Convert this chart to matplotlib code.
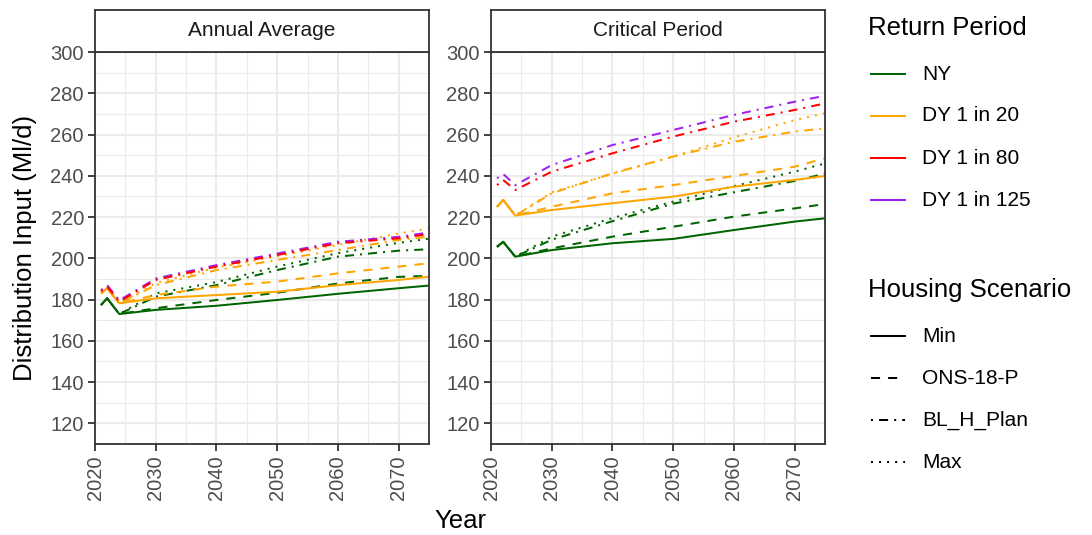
"""
Distribution Input projections by return period and housing scenario,
drawn as two ggplot-style facets (Annual Average / Critical Period).
"""

import matplotlib

matplotlib.use("Agg")
import matplotlib.pyplot as plt
from matplotlib.lines import Line2D
from matplotlib.ticker import MultipleLocator

plt.rcParams["font.family"] = ["Liberation Sans", "DejaVu Sans"]

# --------------------------------------------------------------------------- #
# Data
# --------------------------------------------------------------------------- #
YEARS = [2021, 2022, 2024, 2030, 2040, 2050, 2060, 2070, 2075]

# Annual Average facet
aa_ny_min = [177.4, 180.6, 173.0, 175.0, 177.0, 179.8, 182.8, 185.5, 186.8]
aa_ny_ons = [177.4, 180.6, 173.0, 175.8, 179.8, 183.3, 187.8, 191.0, 191.5]
aa_ny_bl = [177.4, 180.6, 173.0, 181.4, 187.0, 194.3, 200.8, 203.7, 204.4]
aa_ny_max = [177.4, 180.6, 173.0, 183.0, 188.5, 196.0, 202.5, 207.5, 209.5]
aa_d20_min = [183.0, 185.5, 178.2, 180.6, 182.2, 183.8, 187.0, 189.5, 191.1]
aa_d20_ons = [183.0, 185.5, 178.2, 182.2, 186.3, 188.7, 192.7, 196.0, 197.6]
aa_d20_bl = [183.0, 185.5, 178.2, 187.0, 194.3, 199.2, 204.0, 208.9, 210.5]
aa_d20_max = [183.0, 185.5, 178.2, 188.0, 195.5, 201.0, 206.5, 212.0, 214.5]
aa_d80_bl = [184.0, 186.3, 179.0, 189.5, 196.0, 201.6, 207.3, 209.7, 211.8]
aa_d125_bl = [184.6, 187.0, 179.6, 190.2, 196.7, 202.3, 208.0, 210.4, 212.5]

# Critical Period facet
cp_ny_min = [205.6, 208.0, 200.8, 204.0, 207.3, 209.4, 213.7, 217.8, 219.4]
cp_ny_ons = [205.6, 208.0, 200.8, 204.8, 210.5, 215.3, 220.2, 224.2, 226.3]
cp_ny_bl = [205.6, 208.0, 200.8, 209.0, 218.0, 226.5, 232.0, 237.5, 241.0]
cp_ny_max = [205.6, 208.0, 200.8, 210.5, 219.5, 227.5, 235.0, 242.0, 246.0]
cp_d20_min = [225.0, 228.3, 220.7, 223.4, 226.7, 229.9, 234.7, 238.0, 239.9]
cp_d20_ons = [225.0, 228.3, 220.7, 225.0, 231.5, 235.5, 239.9, 244.4, 248.5]
cp_d20_bl = [225.0, 228.3, 220.7, 231.5, 241.2, 249.3, 256.5, 261.4, 263.0]
cp_d20_max = [225.0, 228.3, 220.7, 232.0, 241.0, 249.3, 258.6, 267.0, 270.3]
cp_d80_bl = [235.5, 238.0, 233.1, 242.0, 250.9, 259.0, 266.2, 271.9, 275.1]
cp_d125_bl = [238.8, 240.9, 235.5, 245.2, 254.9, 262.2, 269.5, 275.9, 278.8]

RETURN_PERIODS = ["NY", "DY 1 in 20", "DY 1 in 80", "DY 1 in 125"]
SCENARIOS = ["Min", "ONS-18-P", "BL_H_Plan", "Max"]
FACETS = ["Annual Average", "Critical Period"]

# --------------------------------------------------------------------------- #
# Styles
# --------------------------------------------------------------------------- #
COLORS = {
    "NY": "#006400",
    "DY 1 in 20": "#FFA500",
    "DY 1 in 80": "#FF0000",
    "DY 1 in 125": "#A020F0",
}
DASHES = {
    "Min": None,
    "ONS-18-P": (4.5, 4),
    "BL_H_Plan": (1, 3, 4.5, 3),
    "Max": (1, 3),
}
LW = 1.45
W, H = 1092, 535


def fx(px):
    return px / W


def fy(py):
    return 1 - py / H


def draw_line(ax, values, rp, sc):
    line, = ax.plot(YEARS, values, color=COLORS[rp], lw=LW,
                    solid_capstyle="butt", dash_capstyle="butt")
    if DASHES[sc] is not None:
        line.set_dashes(DASHES[sc])


def style_panel(ax, title):
    ax.set_xlim(2020, 2075)
    ax.set_ylim(110, 300)
    ax.xaxis.set_major_locator(MultipleLocator(10))
    ax.xaxis.set_minor_locator(MultipleLocator(5))
    ax.yaxis.set_major_locator(MultipleLocator(20))
    ax.yaxis.set_minor_locator(MultipleLocator(10))
    ax.set_xticks(range(2020, 2071, 10))
    ax.set_yticks(range(120, 301, 20))
    ax.grid(which="major", color="#EBEBEB", lw=1.5, zorder=0)
    ax.grid(which="minor", color="#EBEBEB", lw=0.8, zorder=0)
    ax.set_axisbelow(True)
    for sp in ax.spines.values():
        sp.set_color("#333333")
        sp.set_linewidth(1.3)
    ax.tick_params(which="major", length=5, width=1.3, color="#333333",
                   labelsize=14.5, labelcolor="#4D4D4D", pad=3)
    ax.tick_params(which="minor", length=0)
    ax.tick_params(axis="x", labelrotation=90)

    # facet strip
    pos = ax.get_position()
    strip = ax.figure.add_axes([pos.x0, fy(52), pos.width, fy(10) - fy(52)])
    strip.set_xticks([])
    strip.set_yticks([])
    for sp in strip.spines.values():
        sp.set_color("#333333")
        sp.set_linewidth(1.3)
    strip.text(0.5, 0.5, title, ha="center", va="center",
               fontsize=15, color="#1A1A1A", transform=strip.transAxes)


fig = plt.figure(figsize=(W / 100, H / 100), dpi=100)

panel_w = fx(429) - fx(95)
ax_aa = fig.add_axes([fx(95), fy(444), panel_w, fy(52) - fy(444)])
ax_cp = fig.add_axes([fx(491), fy(444), panel_w, fy(52) - fy(444)])

aa_series = [
    (aa_ny_min, "NY", "Min"), (aa_ny_ons, "NY", "ONS-18-P"),
    (aa_ny_bl, "NY", "BL_H_Plan"), (aa_ny_max, "NY", "Max"),
    (aa_d20_min, "DY 1 in 20", "Min"), (aa_d20_ons, "DY 1 in 20", "ONS-18-P"),
    (aa_d20_bl, "DY 1 in 20", "BL_H_Plan"), (aa_d20_max, "DY 1 in 20", "Max"),
    (aa_d125_bl, "DY 1 in 125", "BL_H_Plan"), (aa_d80_bl, "DY 1 in 80", "BL_H_Plan"),
]
cp_series = [
    (cp_ny_min, "NY", "Min"), (cp_ny_ons, "NY", "ONS-18-P"),
    (cp_ny_bl, "NY", "BL_H_Plan"), (cp_ny_max, "NY", "Max"),
    (cp_d20_min, "DY 1 in 20", "Min"), (cp_d20_ons, "DY 1 in 20", "ONS-18-P"),
    (cp_d20_bl, "DY 1 in 20", "BL_H_Plan"), (cp_d20_max, "DY 1 in 20", "Max"),
    (cp_d125_bl, "DY 1 in 125", "BL_H_Plan"), (cp_d80_bl, "DY 1 in 80", "BL_H_Plan"),
]

for ax, series, title in [(ax_aa, aa_series, FACETS[0]), (ax_cp, cp_series, FACETS[1])]:
    for values, rp, sc in series:
        draw_line(ax, values, rp, sc)
    style_panel(ax, title)

fig.text(fx(25), fy(248), "Distribution Input (Ml/d)", rotation=90,
         ha="center", va="center", fontsize=18.5, color="black")
fig.text(fx(460), fy(521), "Year", ha="center", va="center",
         fontsize=18.5, color="black")

# --- Legends, drawn by hand to match the ggplot guide layout ---
fig.text(fx(868), fy(28), "Return Period", ha="left", va="center",
         fontsize=18.5, color="black")
for i, rp in enumerate(RETURN_PERIODS):
    y = 74 + 42 * i
    fig.add_artist(Line2D([fx(871), fx(905)], [fy(y), fy(y)],
                          color=COLORS[rp], lw=LW, transform=fig.transFigure))
    fig.text(fx(922), fy(y), rp, ha="left", va="center", fontsize=15, color="black")

fig.text(fx(868), fy(290), "Housing Scenario", ha="left", va="center",
         fontsize=18.5, color="black")
for i, sc in enumerate(SCENARIOS):
    y = 336 + 42 * i
    line = Line2D([fx(871), fx(905)], [fy(y), fy(y)], color="black", lw=LW,
                  transform=fig.transFigure, dash_capstyle="butt")
    if DASHES[sc] is not None:
        line.set_dashes(DASHES[sc])
    fig.add_artist(line)
    fig.text(fx(922), fy(y), sc, ha="left", va="center", fontsize=15, color="black")

fig.savefig("out.png", dpi=100)
